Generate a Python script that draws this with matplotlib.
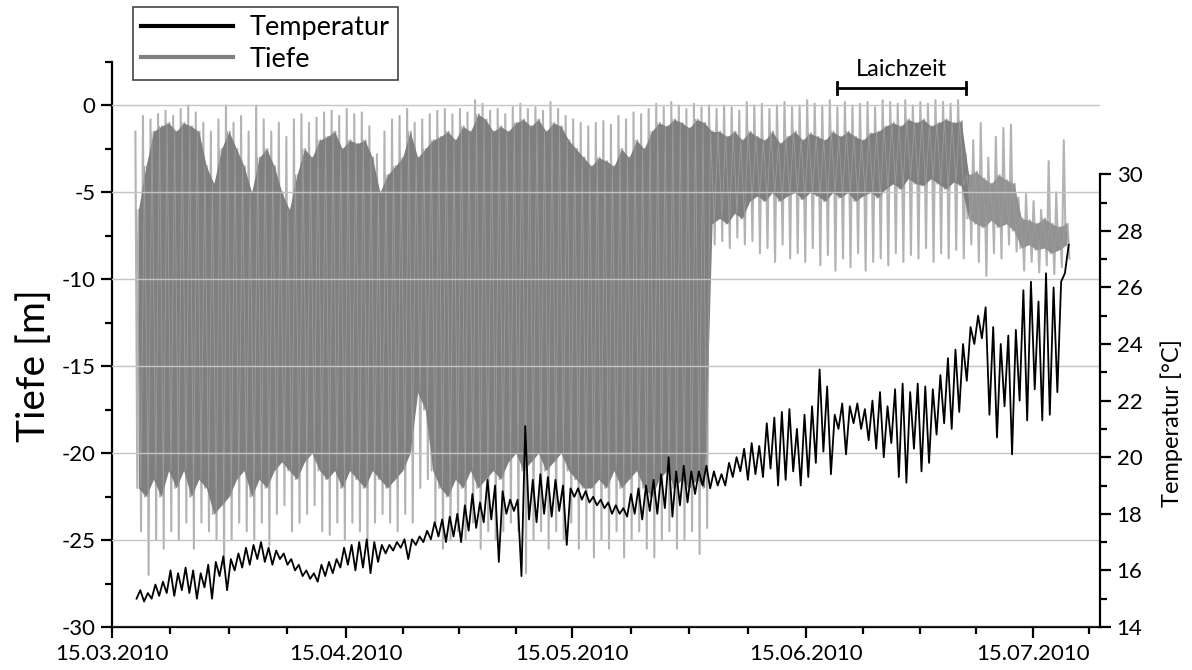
import matplotlib
matplotlib.use('Agg')
import matplotlib.pyplot as plt
import matplotlib.dates as mdates
from matplotlib.lines import Line2D
from matplotlib.ticker import MultipleLocator, FixedLocator
import numpy as np
import datetime as dt

plt.rcParams['font.family'] = ['Lato', 'DejaVu Sans']
plt.rcParams['axes.unicode_minus'] = False

# ---------------- data (daily values) ----------------
first_day = dt.datetime(2010, 3, 18)

# depth [m]: shallowest excursion, deepest excursion, and dense core band per day
depth_top = [-1.5, -0.6, -0.8, -0.5, -0.3, -0.6, -0.2, 0.0, -0.4, -1.0,
             -1.5, -0.8, 0.0, -1.0, -0.6, -1.5, 0.0, -0.8, -1.5, -1.0,
             -1.8, -0.8, -0.5, -1.0, -0.7, -0.4, -0.3, -0.6, -0.2, -0.5,
             -0.4, -1.2, -2.8, -1.5, -0.8, -0.6, -0.2, -1.0, -0.8, -0.5,
             -0.3, -0.2, -0.5, -0.2, -0.4, 0.3, 0.1, -0.3, -0.2, -0.5,
             -0.1, 0.1, -0.2, -0.1, -0.3, 0.2, -0.2, -0.6, -0.8, -1.0,
             -1.2, -1.0, -0.9, -1.1, -0.6, -0.8, -0.4, -0.5, -0.2, 0.1,
             -0.1, 0.2, 0.0, -0.2, 0.1, -0.1, 0.0, -0.2, 0.0, -0.1,
             -0.3, 0.2, 0.0, 0.1, -0.2, 0.0, 0.2, -0.1, 0.0, 0.3,
             0.1, 0.0, 0.3, -0.1, 0.2, 0.0, 0.1, 0.2, -0.1, 0.3,
             0.2, 0.1, 0.3, 0.0, 0.2, 0.1, 0.3, 0.2, 0.1, 0.3,
             -2.8, -2.0, -1.0, -3.0, -1.8, -1.3, -1.1, -5.3, -5.1, -5.5,
             -6.0, -3.2, -5.0, -2.0]
depth_bottom = [-24.5, -27.0, -25.0, -25.5, -24.5, -25.0, -24.0, -25.5, -24.0, -24.5,
                -25.0, -26.6, -25.0, -24.0, -24.5, -25.0, -24.0, -25.3, -23.5, -23.0,
                -24.5, -24.0, -23.5, -23.0, -24.5, -24.7, -24.0, -25.0, -24.0, -24.5,
                -25.2, -24.0, -23.5, -24.0, -24.5, -23.5, -24.0, -22.0, -21.5, -24.0,
                -25.5, -25.0, -24.5, -25.0, -24.0, -25.5, -24.5, -25.0, -24.5, -24.0,
                -24.5, -26.9, -25.0, -24.5, -25.5, -24.5, -25.0, -24.0, -25.5, -25.0,
                -26.0, -25.0, -25.5, -24.5, -26.0, -25.0, -24.5, -25.5, -26.0, -25.0,
                -24.5, -25.5, -25.0, -24.5, -25.8, -24.3, -8.0, -7.8, -8.2, -7.6,
                -8.0, -7.8, -8.5, -8.2, -9.0, -8.0, -8.8, -8.5, -9.0, -8.2,
                -9.2, -8.6, -9.5, -8.8, -9.3, -8.5, -9.5, -9.0, -8.8, -9.2,
                -8.5, -9.0, -8.6, -8.8, -8.2, -9.0, -8.5, -8.8, -8.3, -8.8,
                -8.0, -9.0, -9.8, -8.5, -8.8, -8.0, -8.4, -9.5, -9.0, -9.6,
                -9.2, -9.7, -9.3, -8.8]
core_top = [-6.0, -3.5, -1.5, -1.2, -1.0, -1.5, -1.0, -1.2, -1.5, -3.5,
            -4.5, -2.5, -1.5, -2.5, -3.5, -5.0, -3.0, -2.5, -3.5, -5.0,
            -6.0, -4.0, -2.5, -3.0, -2.0, -1.8, -1.5, -2.5, -2.0, -2.2,
            -2.0, -3.0, -5.0, -4.0, -3.5, -3.0, -1.5, -3.0, -2.5, -2.0,
            -1.8, -1.5, -2.0, -1.2, -1.5, -0.5, -0.8, -1.5, -1.2, -1.5,
            -1.0, -0.8, -1.2, -0.8, -1.5, -1.0, -1.2, -2.0, -2.5, -3.0,
            -3.5, -3.0, -3.2, -3.5, -2.5, -3.0, -2.0, -2.5, -1.5, -1.0,
            -1.2, -0.8, -1.0, -1.3, -0.8, -1.0, -1.5, -1.5, -1.8, -1.5,
            -2.0, -1.5, -1.8, -2.0, -1.5, -2.2, -1.8, -1.5, -2.0, -1.6,
            -1.8, -2.0, -1.5, -1.8, -1.5, -1.8, -2.0, -1.6, -1.5, -1.2,
            -1.0, -1.2, -0.8, -1.0, -0.8, -1.2, -1.0, -0.8, -1.0, -0.9,
            -4.0, -3.8, -4.2, -4.5, -4.0, -4.3, -4.5, -6.5, -6.6, -6.8,
            -6.5, -6.8, -7.0, -6.8]
core_bottom = [-22.0, -22.5, -21.5, -22.5, -21.0, -22.0, -21.0, -22.5, -21.5, -22.0,
               -23.5, -23.0, -22.5, -21.5, -21.0, -22.5, -21.5, -22.0, -21.0, -20.5,
               -21.0, -21.5, -20.5, -20.0, -21.0, -21.5, -21.0, -22.0, -21.0, -21.5,
               -22.0, -21.0, -21.5, -22.0, -21.5, -21.0, -20.0, -16.5, -17.5, -21.0,
               -22.0, -22.5, -21.5, -22.0, -21.0, -22.0, -21.5, -21.0, -21.5, -20.5,
               -20.0, -21.0, -20.5, -20.0, -21.0, -20.5, -20.0, -21.0, -21.5, -22.0,
               -22.0, -21.5, -22.0, -21.0, -22.0, -21.5, -21.0, -22.0, -22.5, -21.5,
               -21.0, -22.0, -21.5, -22.0, -21.5, -22.0, -6.8, -6.5, -6.8, -6.2,
               -6.5, -5.5, -5.2, -5.5, -5.0, -5.5, -5.2, -5.0, -5.4, -5.0,
               -5.2, -5.5, -5.0, -5.3, -5.0, -5.5, -5.2, -5.0, -5.3, -4.8,
               -4.5, -4.8, -4.2, -4.5, -4.6, -4.2, -4.5, -4.8, -4.4, -4.6,
               -6.5, -6.8, -7.0, -6.6, -7.0, -6.8, -7.2, -8.2, -8.0, -8.3,
               -8.2, -8.5, -8.3, -8.0]

# temperature [°C]: daily low and high
temp_low = [15.0, 14.9, 15.0, 15.1, 15.2, 15.1, 15.3, 15.2, 15.0, 15.4,
            15.0, 15.8, 15.3, 16.0, 16.1, 16.2, 16.4, 16.3, 16.2, 16.4,
            16.2, 16.0, 15.8, 15.7, 15.6, 15.8, 15.9, 16.1, 16.2, 16.0,
            16.1, 15.9, 16.3, 16.6, 16.7, 16.8, 16.4, 16.9, 17.0, 17.1,
            17.2, 17.0, 17.2, 17.0, 17.4, 17.5, 17.7, 17.8, 16.3, 18.0,
            18.1, 15.8, 17.8, 17.7, 18.0, 17.9, 18.1, 16.9, 18.6, 18.5,
            18.4, 18.3, 18.2, 18.0, 18.0, 17.9, 18.0, 17.8, 18.1, 18.0,
            18.2, 17.9, 18.3, 18.4, 18.7, 19.0, 18.9, 19.0, 19.0, 19.3,
            19.5, 19.2, 19.4, 19.3, 19.6, 19.0, 19.2, 19.5, 19.0, 19.3,
            19.8, 20.2, 19.4, 21.0, 20.1, 21.2, 21.0, 20.6, 20.3, 20.0,
            20.5, 19.3, 19.1, 20.3, 19.5, 19.8, 20.8, 21.2, 21.0, 21.6,
            22.7, 24.0, 24.2, 21.5, 20.7, 21.8, 20.1, 22.0, 21.3, 22.4,
            21.3, 21.5, 22.3, 26.5]
temp_high = [15.3, 15.2, 15.5, 15.6, 16.0, 15.9, 16.1, 16.0, 15.9, 16.2,
             16.3, 16.5, 16.4, 16.6, 16.8, 16.9, 17.0, 16.8, 16.7, 16.6,
             16.4, 16.2, 16.0, 15.9, 16.2, 16.3, 16.4, 16.8, 16.9, 17.0,
             17.1, 17.0, 16.9, 16.9, 17.0, 17.1, 17.1, 17.2, 17.4, 17.7,
             17.8, 17.9, 18.0, 18.3, 18.7, 18.4, 19.2, 19.0, 18.8, 18.5,
             18.5, 21.1, 19.2, 19.4, 19.3, 19.2, 19.0, 18.9, 18.9, 18.8,
             18.6, 18.5, 18.4, 18.3, 18.2, 18.7, 18.9, 19.0, 19.2, 19.4,
             20.0, 19.5, 19.7, 19.5, 19.5, 19.7, 19.5, 19.4, 19.8, 20.0,
             20.3, 20.5, 20.4, 21.2, 21.4, 21.6, 21.7, 21.0, 21.5, 21.8,
             23.1, 22.5, 21.5, 21.9, 21.8, 21.9, 21.7, 22.0, 22.3, 21.8,
             22.4, 22.6, 22.3, 22.6, 22.5, 22.4, 22.9, 23.5, 23.8, 24.0,
             24.6, 25.0, 25.3, 24.6, 24.0, 24.3, 24.5, 25.9, 26.2, 25.5,
             26.5, 26.0, 26.2, 27.5]

major_dates = [dt.datetime(2010, m, 15) for m in (3, 4, 5, 6, 7)]
spawning = (dt.datetime(2010, 6, 19), dt.datetime(2010, 7, 6, 5))
after_spawning_day = 110   # index of first day after the spawning period

# ---------------- figure ----------------
W, H = 1192, 670
fig = plt.figure(figsize=(W / 100, H / 100), dpi=100)
ax = fig.add_axes([112 / W, 43 / H, 988 / W, 565 / H])

n = len(depth_top)
x0 = mdates.date2num([first_day + dt.timedelta(days=i) for i in range(n)])
xc = x0 + 0.5

# depth: light excursions (dense zigzag through the daily values)
zx = np.column_stack([x0 + 0.1, x0 + 0.35, x0 + 0.6, x0 + 0.85]).ravel()
zy = np.column_stack([depth_top, core_bottom, core_top, depth_bottom]).ravel()
ax.plot(zx, zy, color='#b3b3b3', lw=1.5, zorder=1)

k = after_spawning_day
ax.fill_between(xc[:k + 1], core_top[:k + 1], core_bottom[:k + 1],
                color='#7f7f7f', lw=0, zorder=2)
ax.fill_between(xc[k:], core_top[k:], core_bottom[k:],
                color='#929292', lw=0, zorder=2)
# lighter streaks inside the core
sx = np.column_stack([x0 + 0.3, x0 + 0.8]).ravel()
sy = np.column_stack([core_top, core_bottom]).ravel()
ax.plot(sx, sy, color='#9b9b9b', lw=0.6, zorder=2.5)

ax.set_xlim(mdates.date2num(dt.datetime(2010, 3, 15)),
            mdates.date2num(dt.datetime(2010, 3, 15)) + 130.9)
ax.set_ylim(-30, 2.5)

ax.yaxis.grid(True, which='major', color='#c4c4c4', lw=1.0, zorder=3)
ax.set_axisbelow(False)

ax.set_yticks(range(-30, 1, 5))
ax.yaxis.set_minor_locator(MultipleLocator(2.5))
mnums = mdates.date2num(major_dates)
ax.set_xticks(mnums)
ax.set_xticklabels([d.strftime('%d.%m.%Y') for d in major_dates])
minors = []
for a, b in zip(mnums[:-1], mnums[1:]):
    minors += [a + j * (b - a) / 4 for j in (1, 2, 3)]
minors.append(mnums[-1] + (mnums[-1] - mnums[-2]) / 4)
ax.xaxis.set_minor_locator(FixedLocator(minors))

for s in ('top', 'right'):
    ax.spines[s].set_visible(False)
for s in ('left', 'bottom'):
    ax.spines[s].set_linewidth(1.6)
ax.tick_params(which='major', length=8, width=1.6, labelsize=16, direction='out', pad=4)
ax.tick_params(which='minor', length=5, width=1.6, direction='out')
ax.set_ylabel('Tiefe [m]', fontsize=28)
ax.yaxis.set_label_coords((52 - 112) / 988, 0.462)

# temperature on right axis
ax2 = ax.twinx()
tx = np.column_stack([x0 + 0.25, x0 + 0.75]).ravel()
ty = np.column_stack([temp_low, temp_high]).ravel()
ax2.plot(tx, ty, color='black', lw=1.3)
ax2.set_ylim(14, 14 + 565 / 28.3)
ax2.set_yticks(range(14, 31, 2))
ax2.yaxis.set_minor_locator(FixedLocator(list(range(15, 30, 2))))
for s in ('top', 'left', 'bottom'):
    ax2.spines[s].set_visible(False)
ax2.spines['right'].set_bounds(14, 30)
ax2.spines['right'].set_linewidth(1.6)
ax2.tick_params(which='major', length=8, width=1.6, labelsize=16, direction='out', pad=4)
ax2.tick_params(which='minor', length=5, width=1.6, direction='out')
ax2.set_ylabel('Temperatur [°C]', fontsize=17)
ax2.yaxis.set_label_coords((1160 - 112) / 988, 0.361)

# Laichzeit bracket
s0, s1 = mdates.date2num(spawning)
ax.plot([s0, s1], [1.0, 1.0], color='black', lw=2, clip_on=False, zorder=5)
ax.plot([s0, s0], [0.65, 1.35], color='black', lw=2, clip_on=False, zorder=5)
ax.plot([s1, s1], [0.65, 1.35], color='black', lw=2, clip_on=False, zorder=5)
ax.text((s0 + s1) / 2, 1.45, 'Laichzeit', ha='center', va='bottom', fontsize=17)

# legend
handles = [Line2D([], [], color='black', lw=3), Line2D([], [], color='#808080', lw=3)]
leg = fig.legend(handles, ['Temperatur', 'Tiefe'], loc='upper left',
                 bbox_to_anchor=(133 / W, 1 - 7 / H), fontsize=19.5, frameon=True,
                 fancybox=False, edgecolor='#444444', framealpha=1,
                 handlelength=3.4, handletextpad=0.6, labelspacing=0.25,
                 borderpad=0.3, borderaxespad=0)
leg.get_frame().set_linewidth(1.2)

fig.savefig('out.png', dpi=100)
